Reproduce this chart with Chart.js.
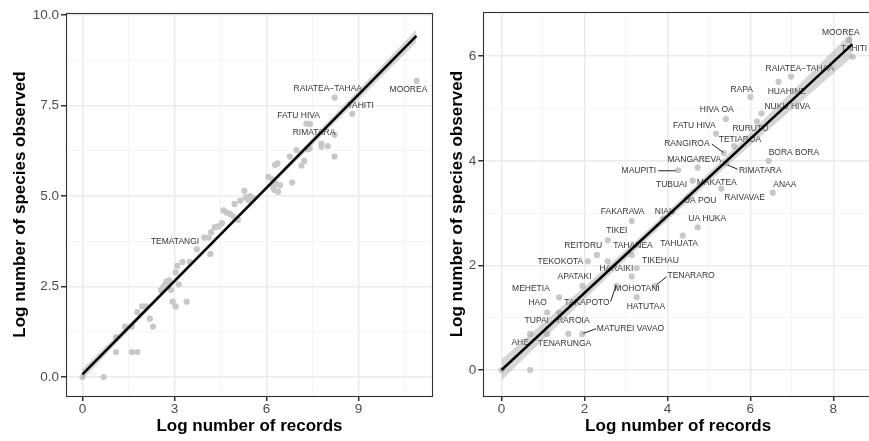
<!DOCTYPE html>
<html>
<head>
<meta charset="utf-8">
<script src="https://cdn.jsdelivr.net/npm/chart.js@4"></script>
<style>
html,body{margin:0;padding:0;width:869px;height:441px;overflow:hidden;background:#fff}
#left{position:absolute;left:0;top:0;width:437px;height:441px}
#right{position:absolute;left:437px;top:0;width:440px;height:441px}
</style>
</head>
<body>
<div id="left"><canvas id="chartLeft"></canvas></div>
<div id="right"><canvas id="chartRight"></canvas></div>
<script>
// ---- left panel data (all islands) ----
var leftRecords = [0,0.69,1.1,1.61,1.79,1.1,1.39,1.61,1.79,1.95,2.08,2.2,2.3,2.56,2.64,2.7,2.75,2.83,2.77,2.89,2.94,3.04,3.14,3.04,3.09,3.26,3.4,3.5,3.73,3.97,4.11,4.17,4.2,4.32,4.44,4.55,4.6,4.71,4.82,4.93,4.96,5.07,5.15,5.28,5.33,5.41,5.47,5.58,6.06,6.19,6.25,6.3,6.44,6.28,6.36,6.22,6.38,6.84,6.76,6.98,7.14,7.23,7.36,7.41,7.3,7.42,7.79,8.0,7.79,8.22,8.22,8.22,8.8,10.9];
var leftSpecies = [0,0,0.69,0.69,0.69,1.1,1.39,1.39,1.79,1.95,1.95,1.61,1.39,2.4,2.5,2.56,2.64,2.67,2.6,2.4,2.08,1.95,2.56,2.89,3.07,3.18,2.08,3.18,3.53,3.85,3.85,3.4,4.0,4.14,4.16,4.25,4.6,4.54,4.5,4.43,4.78,4.34,4.87,5.14,4.96,4.89,5.0,4.94,5.53,5.46,5.17,5.35,5.3,5.86,5.9,5.26,5.12,5.37,6.09,6.27,5.84,5.97,6.29,6.31,7.0,6.99,6.45,6.38,6.36,6.09,6.69,7.72,7.27,8.18];
var leftFitX = [0, 10.89];
var leftFitY = [0.075, 9.42];
var leftBandX = [0, 2, 4, 6, 8, 10.89];
var leftBandLo = [-0.07, 1.71, 3.46, 5.15, 6.83, 9.24];
var leftBandHi = [0.22, 1.87, 3.56, 5.29, 7.05, 9.6];
var leftNames = ['RAIATEA\u2212TAHAA','MOOREA','TAHITI','FATU HIVA','RIMATARA','TEMATANGI'];
var leftNameX = [8.0, 10.63, 9.07, 7.05, 7.55, 3.02];
var leftNameY = [7.96, 7.93, 7.5, 7.23, 6.75, 3.74];
var leftXTicks = [0, 3, 6, 9];
var leftYTicks = [0, 2.5, 5, 7.5, 10];

// ---- right panel data (labelled islands) ----
var rightRecords = [0,0.69,0.69,1.1,1.61,1.95,1.1,1.39,1.39,1.95,2.08,2.3,2.56,2.56,2.77,3.14,3.14,3.26,3.26,3.71,3.14,3.9,4.37,4.73,4.5,4.61,5.3,6.54,4.26,4.73,5.42,6.44,5.36,5.61,5.17,5.41,6.16,6.27,6.0,6.68,6.98,8.38,8.47];
var rightSpecies = [0,0,0.69,0.69,0.69,0.69,1.1,1.1,1.39,1.61,2.08,2.2,2.48,2.08,1.61,2.2,1.79,1.95,1.39,1.61,2.85,2.9,2.57,2.73,3.3,3.62,3.47,3.39,3.82,3.87,3.96,4.0,4.15,4.28,4.52,4.8,4.75,4.91,5.22,5.51,5.61,6.31,5.99];
var rightFitX = [0, 8.46];
var rightFitY = [0, 6.23];
var rightBandX = [0, 1, 2, 3, 4, 5, 6, 7, 8, 8.46];
var rightBandLo = [-0.2, 0.58, 1.35, 2.12, 2.86, 3.59, 4.3, 4.98, 5.67, 5.99];
var rightBandHi = [0.2, 0.9, 1.59, 2.3, 3.02, 3.77, 4.54, 5.32, 6.11, 6.47];
var rightNames = ['MOOREA','TAHITI','RAIATEA\u2212TAHAA','RAPA','HUAHINE','NUKU HIVA','HIVA OA','FATU HIVA','RURUTU','TETIAROA','RANGIROA','BORA BORA','MANGAREVA','MAUPITI','RIMATARA','MAKATEA','TUBUAI','ANAA','RAIVAVAE','UA POU','FAKARAVA','NIAU','UA HUKA','TIKEI','REITORU','TAHANEA','TAHUATA','TEKOKOTA','TIKEHAU','HARAIKI','APATAKI','TENARARO','MEHETIA','MOHOTANI','HAO','TAKAPOTO','HATUTAA','TUPAI','RAROIA','MATUREI VAVAO','AHE','TENARUNGA'];
var rightNameX = [8.18,8.5,7.19,5.79,6.88,6.89,5.19,4.65,6.0,5.75,4.47,7.05,4.65,3.31,6.24,5.19,4.1,6.83,5.86,4.79,2.92,3.94,4.96,2.78,1.97,3.17,4.28,1.42,3.83,2.77,1.76,4.57,0.71,3.27,0.87,2.06,3.48,0.85,1.73,3.11,0.45,1.52];
var rightNameY = [6.46,6.15,5.77,5.37,5.32,5.03,4.97,4.67,4.61,4.41,4.32,4.16,4.03,3.81,3.82,3.58,3.54,3.55,3.29,3.24,3.02,3.02,2.9,2.66,2.38,2.38,2.41,2.07,2.09,1.93,1.78,1.8,1.55,1.55,1.28,1.28,1.22,0.94,0.94,0.79,0.52,0.51];
// leader segments: x1, y1, x2, y2
var rightSegX1 = [5.07, 3.78, 5.45, 3.98, 2.63, 1.97];
var rightSegY1 = [4.32, 3.81, 3.92, 1.78, 1.31, 0.70];
var rightSegX2 = [5.35, 4.2, 5.69, 3.75, 2.76, 2.28];
var rightSegY2 = [4.16, 3.81, 3.84, 1.64, 1.61, 0.79];
var rightXTicks = [0, 2, 4, 6, 8];
var rightYTicks = [0, 2, 4, 6];

var FONT = "'Liberation Sans', Arial, sans-serif";

function pairs(xs, ys) {
  return xs.map(function (x, i) { return {x: x, y: ys[i]}; });
}
function has(list, v) {
  return list.some(function (t) { return Math.abs(t - v) < 1e-6; });
}

function axis(min, max, step, major, fmt, size, title, pad) {
  return {
    type: 'linear', min: min, max: max,
    afterFit: function (s) { if (s.isHorizontal()) s.height = size; else s.width = size; },
    ticks: {
      stepSize: step, includeBounds: false, autoSkip: false, maxRotation: 0,
      color: '#4d4d4d', font: {family: FONT, size: 13.5}, padding: pad,
      callback: function (v) { return has(major, v) ? fmt(v) : ''; }
    },
    grid: {
      color: function (c) { return c.tick && has(major, c.tick.value) ? '#ebebeb' : '#f4f4f4'; },
      lineWidth: function (c) { return c.tick && has(major, c.tick.value) ? 1.5 : 1; },
      tickColor: function (c) { return c.tick && has(major, c.tick.value) ? '#333333' : 'rgba(0,0,0,0)'; },
      tickLength: 5
    },
    border: {display: false},
    title: {display: true, text: title, color: '#000', font: {family: FONT, size: 17, weight: 'bold'}, padding: {top: 10, bottom: 4.4}}
  };
}

function panelPlugin(names, nx, ny, segs) {
  return {
    id: 'panelDecor',
    afterDatasetDraw: function (chart, args) {
      if (args.index !== 0) return;
      var ctx = chart.ctx, xs = chart.scales.x, ys = chart.scales.y;
      ctx.save();
      ctx.fillStyle = '#333333';
      ctx.font = '8.5px ' + FONT;
      ctx.textAlign = 'center';
      ctx.textBaseline = 'middle';
      names.forEach(function (n, i) {
        ctx.fillText(n, xs.getPixelForValue(nx[i]), ys.getPixelForValue(ny[i]));
      });
      if (segs) {
        ctx.strokeStyle = '#222222';
        ctx.lineWidth = 1;
        segs[0].forEach(function (x1, i) {
          ctx.beginPath();
          ctx.moveTo(xs.getPixelForValue(x1), ys.getPixelForValue(segs[1][i]));
          ctx.lineTo(xs.getPixelForValue(segs[2][i]), ys.getPixelForValue(segs[3][i]));
          ctx.stroke();
        });
      }
      ctx.restore();
    },
    afterDraw: function (chart) {
      var a = chart.chartArea, ctx = chart.ctx;
      ctx.save();
      ctx.strokeStyle = '#333333';
      ctx.lineWidth = 1.1;
      ctx.strokeRect(Math.round(a.left) + 0.5, Math.round(a.top) + 0.5, Math.round(a.right - a.left) - 1, Math.round(a.bottom - a.top));
      ctx.restore();
    }
  };
}

function makeChart(id, pts, fit, lo, hi, scales, pad, plugin) {
  return new Chart(document.getElementById(id), {
    type: 'line',
    data: {
      datasets: [
        {data: pts, showLine: false, pointRadius: 3.1, pointBackgroundColor: '#c8c8c8', pointBorderWidth: 0, order: 3},
        {data: lo, pointRadius: 0, borderWidth: 0, borderColor: 'rgba(0,0,0,0)', fill: false, order: 2},
        {data: hi, pointRadius: 0, borderWidth: 0, borderColor: 'rgba(0,0,0,0)', fill: '-1', backgroundColor: 'rgba(153,153,153,0.4)', order: 1},
        {data: fit, pointRadius: 0, borderWidth: 2.5, borderColor: '#000000', fill: false, order: 0}
      ]
    },
    options: {
      responsive: true, maintainAspectRatio: false, animation: false,
      layout: {padding: pad},
      plugins: {legend: {display: false}, tooltip: {enabled: false}},
      scales: scales
    },
    plugins: [plugin]
  });
}

makeChart('chartLeft',
  pairs(leftRecords, leftSpecies), pairs(leftFitX, leftFitY),
  pairs(leftBandX, leftBandLo), pairs(leftBandX, leftBandHi),
  {
    x: axis(-0.535, 11.43, 1.5, leftXTicks, function (v) { return String(v); }, 45, 'Log number of records', 0),
    y: axis(-0.525, 10.055, 1.25, leftYTicks, function (v) { return v.toFixed(1); }, 66, 'Log number of species observed', 2)
  },
  {top: 13, right: 1, left: 0, bottom: 0},
  panelPlugin(leftNames, leftNameX, leftNameY, null));

makeChart('chartRight',
  pairs(rightRecords, rightSpecies), pairs(rightFitX, rightFitY),
  pairs(rightBandX, rightBandLo), pairs(rightBandX, rightBandHi),
  {
    x: axis(-0.439, 8.957, 1, rightXTicks, function (v) { return String(v); }, 45, 'Log number of records', 0),
    y: axis(-0.497, 6.84, 1, rightYTicks, function (v) { return String(v); }, 46.3, 'Log number of species observed', 2)
  },
  {top: 12.3, right: 0, left: 0, bottom: 0},
  panelPlugin(rightNames, rightNameX, rightNameY, [rightSegX1, rightSegY1, rightSegX2, rightSegY2]));
</script>
</body>
</html>
